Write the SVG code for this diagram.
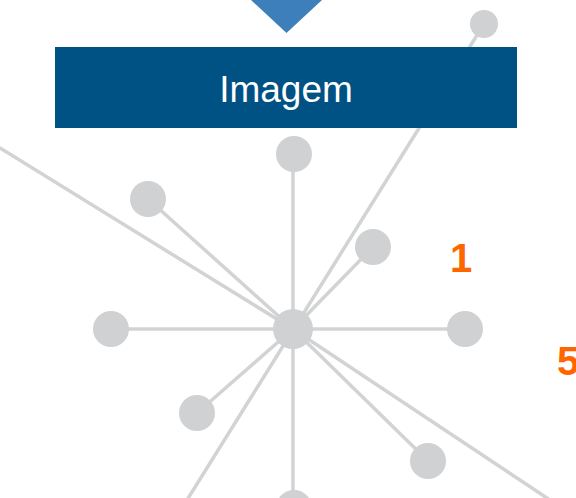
<svg xmlns="http://www.w3.org/2000/svg" width="576" height="498" viewBox="0 0 576 498">
<style>
.ln{stroke:#d2d3d4;stroke-width:3.5;fill:none;stroke-linecap:round}
.nd{fill:#d0d1d3}
.num{font-family:"Liberation Sans",Arial,sans-serif;font-weight:bold;font-size:40px;fill:#ff6600}
</style>
<rect width="576" height="498" fill="#ffffff"/>
<g id="connectors">
<polyline class="ln" points="0,148 293,329 550,500"/>
<line class="ln" x1="484" y1="24" x2="187" y2="500"/>
<line class="ln" x1="293" y1="154" x2="293" y2="508"/>
<line class="ln" x1="111" y1="329" x2="465" y2="329"/>
<line class="ln" x1="293" y1="329" x2="148" y2="199"/>
<line class="ln" x1="293" y1="329" x2="373" y2="247"/>
<line class="ln" x1="293" y1="329" x2="197" y2="413"/>
<line class="ln" x1="293" y1="329" x2="428" y2="461"/>
</g>
<g id="hub"><circle class="nd" cx="293" cy="329" r="20"/></g>
<g id="node-top"><circle class="nd" cx="294" cy="154" r="18"/></g>
<g id="node-topright"><circle class="nd" cx="484" cy="24" r="14"/></g>
<g id="node-upperleft"><circle class="nd" cx="148" cy="199" r="18"/></g>
<g id="node-upperright"><circle class="nd" cx="373" cy="247" r="18"/></g>
<g id="node-left"><circle class="nd" cx="111" cy="329" r="18"/></g>
<g id="node-right"><circle class="nd" cx="465" cy="329" r="18"/></g>
<g id="node-lowerleft"><circle class="nd" cx="197" cy="413" r="18"/></g>
<g id="node-lowerright"><circle class="nd" cx="428" cy="461" r="18"/></g>
<g id="node-bottom"><circle class="nd" cx="294" cy="508" r="18"/></g>
<g id="pointer"><polygon points="251,0 322,0 286.5,33" fill="#3d7fba"/></g>
<g id="title">
<rect x="55" y="47" width="462" height="81" fill="#005184"/>
<text x="286" y="102" text-anchor="middle" font-family="'Liberation Sans',Arial,sans-serif" font-size="37" fill="#ffffff">Imagem</text>
</g>
<g id="label-1"><text class="num" x="461" y="272" text-anchor="middle">1</text></g>
<g id="label-5"><text class="num" x="557" y="375">5</text></g>
</svg>
